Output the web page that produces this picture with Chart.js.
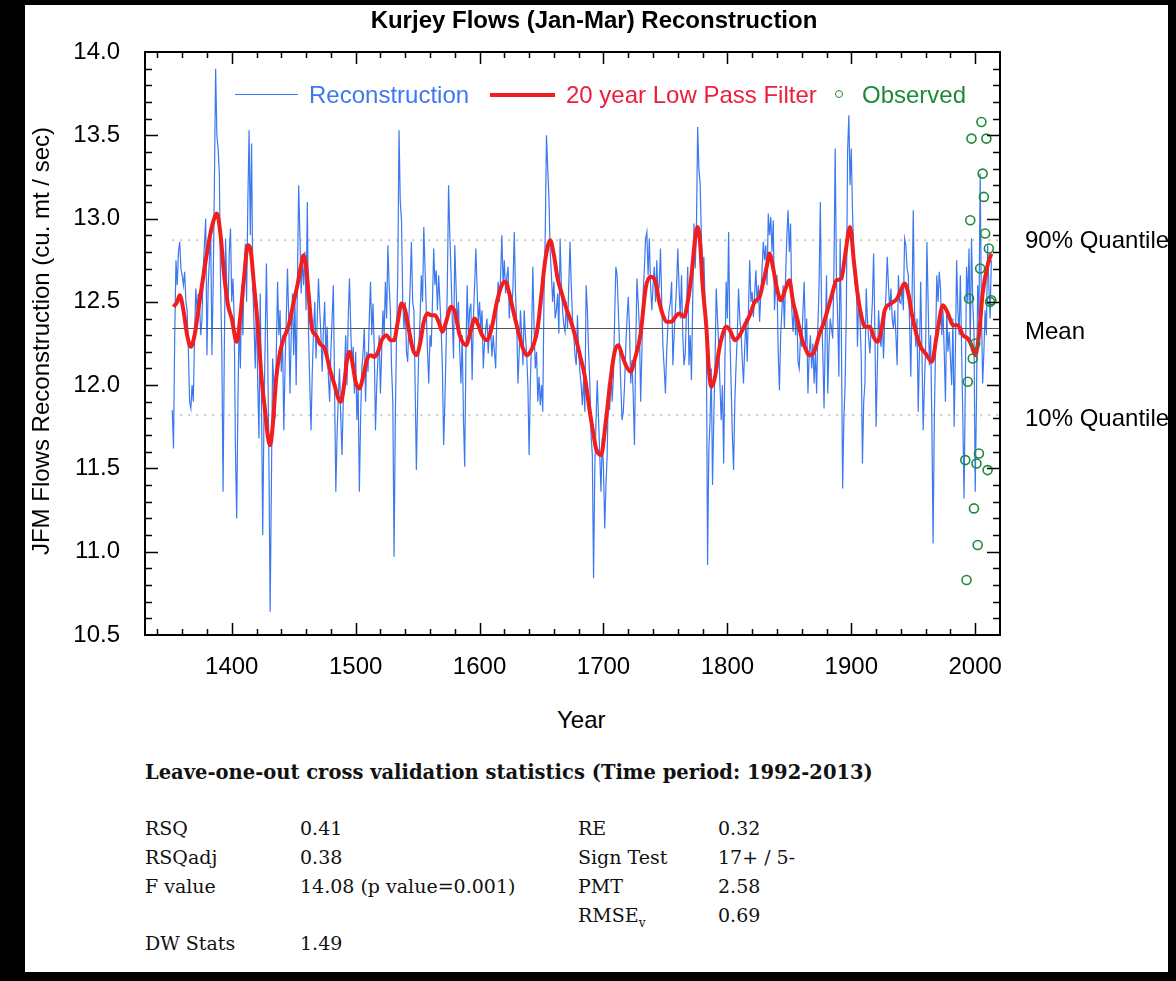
<!DOCTYPE html>
<html>
<head>
<meta charset="utf-8">
<title>Kurjey Flows (Jan-Mar) Reconstruction</title>
<script src="https://cdn.jsdelivr.net/npm/chart.js@4.4.1/dist/chart.umd.min.js"></script>
<style>
  html, body { margin: 0; padding: 0; background: #000; }
  #page { position: absolute; left: 25px; top: 5px; width: 1143px; height: 967px; background: #fff; overflow: hidden;
          font-family: "Liberation Sans", Arial, sans-serif; color: #000; }
  #chart { position: absolute; left: 0; top: 0; }
  .lbl { position: absolute; font-size: 24px; line-height: 24px; white-space: nowrap; }
  .title { left: 0; width: 1138px; text-align: center; top: 3px; font-weight: bold; }
  .ytitle { left: -284px; top: 324px; width: 600px; text-align: center; transform: rotate(-90deg); }
  .key { position: absolute; height: 0; }
  .dot { position: absolute; width: 6px; height: 6px; border: 1.5px solid #1f8a3a; border-radius: 50%; }
  .stats { position: absolute; font-family: "DejaVu Serif", serif; font-size: 19px; line-height: 19px; white-space: nowrap; color: #111; }
  .stats.head { font-weight: bold; font-size: 19.5px; }
  sub { font-size: 12px; line-height: 0; }
</style>
</head>
<body>
<div id="page">
  <canvas id="chart" width="1143" height="700"></canvas>

  <div class="lbl title">Kurjey Flows (Jan-Mar) Reconstruction</div>
  <div class="lbl ytitle">JFM Flows Reconstruction (cu. mt / sec)</div>
  <div class="lbl" style="left:532px; top:703px;">Year</div>

  <div class="lbl" style="left:1000px; top:223px;">90% Quantile</div>
  <div class="lbl" style="left:1000px; top:314px;">Mean</div>
  <div class="lbl" style="left:1000px; top:401px;">10% Quantile</div>

  <!-- legend -->
  <div class="key" style="left:210px; top:89px; width:63px; border-top:1.5px solid #3c78f0;"></div>
  <div class="lbl" style="left:284px; top:78px; color:#3c78f0;">Reconstruction</div>
  <div class="key" style="left:465px; top:88px; width:65px; border-top:4px solid #f01e1e;"></div>
  <div class="lbl" style="left:541px; top:78px; color:#ec1e3c;">20 year Low Pass Filter</div>
  <div class="dot" style="left:810px; top:85px;"></div>
  <div class="lbl" style="left:837px; top:78px; color:#1f8a3a;">Observed</div>

  <!-- validation statistics -->
  <div class="stats head" style="left:120px; top:758px;">Leave-one-out cross validation statistics (Time period: 1992-2013)</div>
  <div class="stats" style="left:120px; top:814px;">RSQ</div>
  <div class="stats" style="left:275px; top:814px;">0.41</div>
  <div class="stats" style="left:120px; top:843px;">RSQadj</div>
  <div class="stats" style="left:275px; top:843px;">0.38</div>
  <div class="stats" style="left:120px; top:872px;">F value</div>
  <div class="stats" style="left:275px; top:872px;">14.08 (p value=0.001)</div>
  <div class="stats" style="left:120px; top:929px;">DW Stats</div>
  <div class="stats" style="left:275px; top:929px;">1.49</div>
  <div class="stats" style="left:553px; top:814px;">RE</div>
  <div class="stats" style="left:693px; top:814px;">0.32</div>
  <div class="stats" style="left:553px; top:843px;">Sign Test</div>
  <div class="stats" style="left:693px; top:843px;">17+ / 5-</div>
  <div class="stats" style="left:553px; top:872px;">PMT</div>
  <div class="stats" style="left:693px; top:872px;">2.58</div>
  <div class="stats" style="left:553px; top:901px;">RMSE<sub>v</sub></div>
  <div class="stats" style="left:693px; top:901px;">0.69</div>
</div>

<script>
// annual reconstruction, first value is 1352
const reconStart = 1352;
const reconValues = [
  11.85, 11.62, 12.30, 12.75, 12.60, 12.80, 12.86, 12.70, 12.66, 12.60,
  12.68, 12.50, 12.45, 12.20, 11.90, 11.86, 12.00, 11.90, 12.30, 12.58,
  12.45, 12.55, 12.49, 12.30, 12.40, 12.70, 12.85, 13.00, 12.18, 12.60,
  12.75, 12.95, 12.18, 12.60, 13.20, 13.90, 13.50, 13.42, 13.27, 12.60,
  12.20, 11.36, 12.20, 12.88, 12.60, 12.45, 12.80, 12.94, 12.50, 12.64,
  12.40, 11.60, 11.20, 11.90, 12.40, 12.10, 12.60, 12.30, 12.70, 12.85,
  12.50, 13.10, 13.53, 12.90, 13.45, 12.60, 12.36, 12.10, 12.50, 12.00,
  11.68, 12.55, 11.90, 11.10, 11.80, 12.27, 12.73, 12.20, 11.55, 10.64,
  11.40, 12.16, 12.00, 11.80, 12.20, 12.62, 12.30, 12.45, 12.08, 12.30,
  11.73, 12.10, 12.40, 12.70, 12.40, 11.95, 12.30, 12.55, 12.18, 12.50,
  12.00, 12.60, 13.20, 12.91, 12.55, 12.75, 12.60, 12.80, 12.45, 13.10,
  12.30, 12.00, 11.73, 12.08, 12.32, 12.50, 12.16, 12.40, 12.64, 12.45, 12.30,
  12.08, 12.34, 12.50, 12.18, 12.35, 12.05, 11.90, 12.20, 12.40, 12.60,
  11.97, 11.36, 11.70, 11.93, 12.10, 11.80, 11.58, 11.90, 12.10, 12.30,
  12.00, 12.40, 12.64, 12.35, 12.12, 12.23,
  11.95, 12.20, 11.79, 12.00, 11.36, 11.80, 12.10, 12.20, 12.34, 11.90,
  12.20, 12.08, 12.40, 12.62, 12.30, 12.49, 12.23, 11.73, 12.00, 12.16,
  12.30, 11.95, 12.20, 12.45, 12.30, 12.62, 12.40, 12.84, 12.60, 12.45,
  12.10, 11.90, 10.97, 11.80, 12.30, 12.66, 13.53, 13.10, 12.99, 12.50,
  12.34, 12.50, 12.20, 12.14, 12.40, 12.60, 12.86, 12.50, 12.45, 12.00,
  11.49, 11.90, 12.23, 12.40, 12.66, 12.50, 12.95, 12.70, 12.45, 12.20,
  12.01, 12.30, 12.23, 12.50, 12.82, 12.60, 12.69, 12.45, 12.66, 12.50,
  12.34, 12.10, 11.64, 11.90, 12.23, 12.60, 13.20, 12.90, 12.66, 12.40,
  12.16,
  12.84, 12.60, 12.36, 12.50, 12.20, 12.01, 12.30, 11.80, 11.51, 12.20,
  12.60, 12.30, 12.45, 12.49, 12.03, 12.40, 12.60, 12.82, 12.58, 12.36,
  12.50, 12.34, 12.45, 12.10, 12.25, 12.34, 12.40, 12.19, 12.35, 12.32,
  12.17, 12.30, 12.20,
  12.10, 12.45, 12.62, 12.50, 12.66, 12.90, 12.60, 12.75, 12.55, 12.65,
  12.71, 12.40, 12.56, 12.45, 12.60, 12.92, 12.55, 12.36, 12.01, 12.20,
  12.45, 12.30, 12.12, 12.45, 12.30, 12.19, 12.00, 11.58, 12.01, 12.30,
  12.71, 12.34, 12.10, 12.20, 11.90, 12.05, 11.88, 12.00, 11.84, 12.55,
  12.90, 13.50, 13.30, 13.12, 12.80, 12.66, 12.50, 12.62, 12.40, 12.45,
  12.55, 12.31,
  12.88, 12.60, 12.45, 12.36, 12.32, 12.50, 12.34, 12.60, 12.86, 12.60,
  12.40, 12.30, 12.18, 12.12, 12.42, 12.20, 12.08, 12.00, 11.88, 12.05,
  11.84, 12.60, 12.45, 12.20, 12.01, 11.70, 11.58, 10.84, 11.50, 11.79,
  12.03, 11.80, 11.58, 11.36, 11.68, 11.50, 11.14, 11.40, 11.58, 12.01,
  11.85, 12.12, 11.90, 12.05, 12.40, 12.71, 12.66, 12.45, 12.23, 12.00,
  11.79, 11.84, 12.00, 12.23, 12.40, 12.53, 12.34, 12.01, 12.15, 11.94,
  11.64, 12.20, 12.64, 12.50, 12.34, 11.90, 12.20, 12.55, 12.70, 12.88,
  12.92, 12.66, 12.88, 12.60, 12.45, 12.60, 12.71, 12.50, 12.75, 12.55,
  12.60, 12.82, 12.50, 12.23,
  12.10, 11.95, 12.20, 12.36, 12.45,
  12.50, 12.62, 12.12, 12.30, 12.45, 12.60, 12.82, 12.58, 12.40, 12.66,
  12.30, 12.12, 12.19, 12.45, 12.71, 12.12, 12.30, 12.03, 12.50, 12.97,
  12.70, 12.93, 13.55, 13.30, 13.21, 12.90, 12.66, 12.77, 12.50, 12.34,
  10.92, 11.60, 11.79, 12.10, 11.40, 11.80, 12.12, 12.58, 12.40, 12.23,
  12.00, 11.79, 12.00, 11.53, 12.14, 12.62, 12.40, 12.92, 12.30, 12.01,
  11.70, 11.49, 11.90, 12.12, 12.30, 12.58, 12.40, 12.32, 12.15, 12.01,
  12.23, 12.40, 12.14, 12.45, 12.75, 12.50, 12.56, 12.41, 12.55, 12.69,
  12.49, 12.60, 12.38, 12.55, 12.70, 12.86, 12.75, 12.84, 12.60, 13.03,
  12.90,
  13.01, 12.80, 12.99, 12.45, 12.60, 12.66, 12.20, 11.97, 12.30, 12.45,
  12.60, 12.34, 12.66, 12.90, 13.05, 12.80, 12.97, 12.45, 12.32, 12.50,
  12.30, 12.45, 12.14, 12.10, 12.30, 12.23, 12.45, 12.62, 12.23, 12.40,
  11.95, 12.19, 12.30, 12.10, 12.25, 12.01, 12.20, 11.95, 12.34, 12.60,
  13.10, 12.45, 12.20, 11.86, 12.30, 12.66, 11.95, 12.23, 12.40, 12.34,
  12.28, 12.70, 13.42, 12.64, 12.40, 12.05, 12.88, 12.30, 11.38, 11.80,
  12.00, 12.45, 13.40, 13.62, 13.20, 13.42, 13.03, 12.80, 12.60, 12.66,
  12.23, 12.55, 12.40, 12.17, 11.53, 11.90, 12.01, 12.58, 12.40, 12.28,
  12.19, 12.34, 12.50, 12.79,
  12.34, 11.75, 12.10, 12.45, 12.30, 12.23, 12.40, 12.16, 12.40, 12.55,
  12.77, 12.60, 12.45, 12.58, 12.40, 12.34, 12.45, 12.30, 12.12, 12.66,
  12.50, 12.49, 12.60, 12.45, 12.88, 12.84, 12.70, 12.66, 12.38, 12.05,
  12.50, 13.05, 12.45, 12.23, 12.40, 11.84, 12.20, 12.62, 12.20, 11.73,
  12.00, 12.23, 12.86, 12.50, 12.12, 12.30, 11.79, 11.05, 11.80, 12.23,
  12.66, 12.50, 12.68, 12.58, 12.30, 12.45, 12.20, 11.90, 12.45, 12.20,
  12.32, 12.16, 12.00, 12.40, 11.75, 12.20, 12.75, 12.45, 12.30, 12.66,
  12.23, 11.80, 11.32, 12.00, 12.71, 12.50, 12.82, 12.23, 12.88, 12.50,
  12.32, 11.36, 11.90, 12.60, 12.40, 13.27, 12.45, 12.01, 12.20, 12.45,
  12.30, 12.84, 12.60, 12.40, 12.75
];

// 20 year low pass filter
const filterYears = [
  1353, 1356, 1358, 1361, 1364, 1367, 1370, 1374, 1378, 1382,
  1385, 1388, 1391, 1394, 1397, 1400, 1404, 1407, 1410, 1413,
  1415, 1418, 1421, 1424, 1427, 1429, 1431, 1433, 1436, 1439,
  1442, 1446, 1450, 1453, 1456, 1458, 1460, 1462, 1465, 1468,
  1471, 1475, 1479, 1483, 1486, 1488, 1491, 1493, 1495, 1497,
  1500, 1503, 1506, 1509, 1512, 1515, 1518, 1521, 1525, 1528,
  1531, 1534, 1537, 1540, 1543, 1546, 1549, 1552, 1555, 1558,
  1561, 1564, 1567, 1570, 1573, 1577, 1580, 1584, 1589, 1593,
  1596, 1599, 1602, 1606, 1610, 1614, 1618, 1621, 1624, 1628,
  1632, 1635, 1638, 1641, 1644, 1647, 1650, 1653, 1657, 1660,
  1663, 1666, 1670, 1673, 1677, 1681, 1685, 1689, 1692, 1694,
  1698, 1702, 1706, 1709, 1712, 1715, 1718, 1722, 1725, 1730,
  1734, 1738, 1742, 1745, 1748, 1751, 1755, 1758, 1761, 1765,
  1768, 1771, 1774, 1776, 1778, 1780, 1783, 1785, 1787, 1790,
  1793, 1796, 1799, 1802, 1806, 1810, 1814, 1818, 1822, 1826,
  1829, 1832, 1834, 1837, 1840, 1843, 1847, 1850, 1853, 1857,
  1860, 1863, 1866, 1870, 1874, 1878, 1882, 1885, 1888, 1892,
  1895, 1899, 1902, 1905, 1908, 1911, 1915, 1918, 1921, 1924,
  1927, 1932, 1937, 1940, 1943, 1946, 1949, 1952, 1956, 1960,
  1965, 1969, 1974, 1978, 1982, 1986, 1990, 1994, 1997, 2000,
  2003, 2006, 2010, 2013
];
const filterValues = [
  12.47, 12.50, 12.54, 12.45, 12.30, 12.23, 12.30, 12.50, 12.70, 12.88,
  12.98, 13.03, 12.90, 12.65, 12.48, 12.40, 12.26, 12.42, 12.65, 12.84,
  12.82, 12.60, 12.36, 12.05, 11.84, 11.70, 11.64, 11.75, 12.05, 12.20,
  12.28, 12.36, 12.50, 12.60, 12.72, 12.78, 12.72, 12.55, 12.33, 12.30,
  12.25, 12.22, 12.10, 12.00, 11.92, 11.90, 12.02, 12.15, 12.20, 12.15,
  12.02, 11.98, 12.05, 12.15, 12.18, 12.17, 12.20, 12.27, 12.30, 12.27,
  12.27, 12.38, 12.49, 12.45, 12.33, 12.22, 12.18, 12.25, 12.38, 12.43,
  12.42, 12.42, 12.38, 12.32, 12.38, 12.47, 12.44, 12.30, 12.24, 12.33,
  12.40, 12.36, 12.30, 12.27, 12.35, 12.50, 12.60, 12.62, 12.55, 12.42,
  12.30, 12.22, 12.18, 12.20, 12.25, 12.35, 12.55, 12.75, 12.87, 12.78,
  12.64, 12.56, 12.46, 12.40, 12.30, 12.18, 12.05, 11.84, 11.70, 11.62,
  11.58, 11.79, 12.05, 12.20, 12.24, 12.18, 12.12, 12.08, 12.15, 12.31,
  12.58, 12.65, 12.62, 12.50, 12.42, 12.38, 12.38, 12.41, 12.43, 12.41,
  12.50, 12.66, 12.88, 12.95, 12.85, 12.60, 12.35, 12.10, 11.99, 12.05,
  12.20, 12.30, 12.35, 12.33, 12.27, 12.30, 12.36, 12.42, 12.50, 12.53,
  12.62, 12.72, 12.79, 12.70, 12.58, 12.51, 12.58, 12.63, 12.50, 12.38,
  12.28, 12.22, 12.18, 12.20, 12.30, 12.38, 12.48, 12.56, 12.63, 12.64,
  12.78, 12.95, 12.75, 12.55, 12.42, 12.35, 12.35, 12.29, 12.26, 12.32,
  12.45, 12.49, 12.52, 12.57, 12.61, 12.55, 12.42, 12.32, 12.23, 12.19,
  12.14, 12.30, 12.48, 12.43, 12.36, 12.36, 12.30, 12.28, 12.24, 12.18,
  12.30, 12.55, 12.72, 12.79
];

// observed flows 1992-2013
const observedYears = [
  1992, 1993, 1994, 1995, 1996, 1997, 1998, 1999, 2000, 2001, 2002,
  2003, 2004, 2005, 2006, 2007, 2008, 2009, 2010, 2011, 2012, 2013
];
const observedValues = [
  11.55, 10.83, 12.02, 12.52, 12.99, 13.48, 12.16, 11.26, 12.25, 11.53, 11.04,
  11.59, 12.70, 13.58, 13.27, 13.13, 12.91, 13.48, 11.49, 12.82, 12.50, 12.51
];

const meanFlow = 12.34;
const quantile90 = 12.87;
const quantile10 = 11.82;
const refLineYears = [1352, 2020];

const yearTicks = [1400, 1500, 1600, 1700, 1800, 1900, 2000];
const flowTicks = [10.5, 11.0, 11.5, 12.0, 12.5, 13.0, 13.5, 14.0];

const blue = '#3c78f0';
const red = '#f01e1e';
const green = '#1f8a3a';

const reconPts = reconValues.map((v, i) => ({ x: reconStart + i, y: v }));
const filterPts = filterYears.map((yr, i) => ({ x: yr, y: filterValues[i] }));
const observedPts = observedYears.map((yr, i) => ({ x: yr, y: observedValues[i] }));
const flat = (v) => refLineYears.map(yr => ({ x: yr, y: v }));

// frame and inward tick marks on all four sides
const frameTicks = {
  id: 'frameTicks',
  afterDatasetsDraw(chart) {
    const { ctx, chartArea: a, scales: { x, y } } = chart;
    ctx.save();
    ctx.strokeStyle = '#000';
    ctx.lineWidth = 1.5;
    ctx.beginPath();
    for (let yr = 1340; yr <= 2000; yr += 20) {
      const px = Math.round(x.getPixelForValue(yr)) + 0.5;
      const len = yr % 100 === 0 ? 12 : 6;
      ctx.moveTo(px, a.bottom); ctx.lineTo(px, a.bottom - len);
      ctx.moveTo(px, a.top); ctx.lineTo(px, a.top + len);
    }
    for (let i = 106; i < 140; i++) {
      const py = Math.round(y.getPixelForValue(i / 10)) + 0.5;
      const len = i % 5 === 0 ? 13 : 7;
      ctx.moveTo(a.left, py); ctx.lineTo(a.left + len, py);
      ctx.moveTo(a.right, py); ctx.lineTo(a.right - len, py);
    }
    ctx.stroke();
    ctx.lineWidth = 2;
    ctx.strokeRect(a.left, a.top, a.right - a.left, a.bottom - a.top);
    ctx.restore();
  }
};

const tickFont = { family: '"Liberation Sans", Arial, sans-serif', size: 24 };

const ctx = document.getElementById('chart').getContext('2d');
const chart = new Chart(ctx, {
  type: 'line',
  data: {
    datasets: [
      {
        label: 'Observed',
        data: observedPts,
        showLine: false,
        pointRadius: 4.5,
        pointBorderWidth: 1.6,
        pointBorderColor: green,
        pointBackgroundColor: 'rgba(0,0,0,0)',
        order: 0
      },
      {
        label: '20 year Low Pass Filter',
        data: filterPts,
        borderColor: red,
        borderWidth: 4,
        pointRadius: 0,
        cubicInterpolationMode: 'monotone',
        order: 1
      },
      {
        label: 'Mean',
        data: flat(meanFlow),
        borderColor: '#555',
        borderWidth: 1,
        pointRadius: 0,
        order: 2
      },
      {
        label: 'Reconstruction',
        data: reconPts,
        borderColor: blue,
        borderWidth: 1.2,
        pointRadius: 0,
        order: 3
      },
      {
        label: '90% Quantile',
        data: flat(quantile90),
        borderColor: '#c8c8c0',
        borderWidth: 2,
        borderDash: [2, 6],
        pointRadius: 0,
        order: 4
      },
      {
        label: '10% Quantile',
        data: flat(quantile10),
        borderColor: '#c8c8c0',
        borderWidth: 2,
        borderDash: [2, 6],
        pointRadius: 0,
        order: 4
      }
    ]
  },
  options: {
    responsive: false,
    animation: false,
    devicePixelRatio: 1,
    layout: { padding: { top: 47, right: 168, left: 0, bottom: 0 } },
    plugins: {
      legend: { display: false },
      tooltip: { enabled: false }
    },
    scales: {
      x: {
        type: 'linear',
        min: 1330,
        max: 2020,
        grid: { display: false, drawTicks: false },
        border: { display: false },
        ticks: { font: tickFont, color: '#000', padding: 18, maxRotation: 0, callback: v => String(v) },
        afterBuildTicks: s => { s.ticks = yearTicks.map(v => ({ value: v })); },
        afterFit: s => { s.height = 70; }
      },
      y: {
        min: 10.5,
        max: 14.0,
        grid: { display: false, drawTicks: false },
        border: { display: false },
        ticks: { font: tickFont, color: '#000', padding: 25, callback: v => v.toFixed(1) },
        afterBuildTicks: s => { s.ticks = flowTicks.map(v => ({ value: v })); },
        afterFit: s => { s.width = 120; }
      }
    }
  },
  plugins: [frameTicks]
});
</script>
</body>
</html>
